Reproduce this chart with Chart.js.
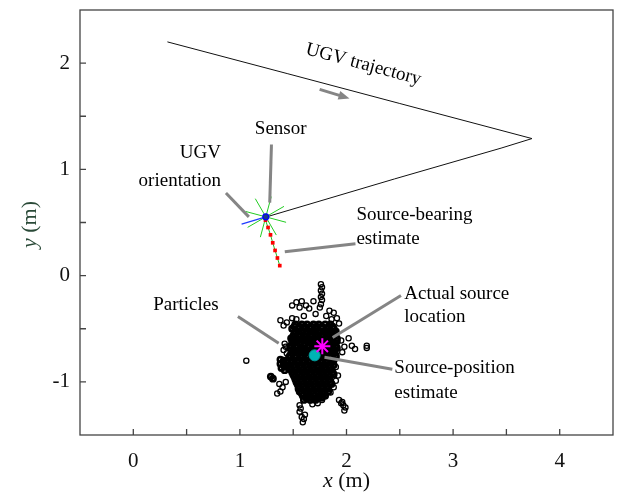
<!DOCTYPE html>
<html>
<head>
<meta charset="utf-8">
<script src="https://cdn.jsdelivr.net/npm/chart.js@4.4.1/dist/chart.umd.min.js"></script>
<style>
  html, body { margin: 0; padding: 0; background: #fff; }
</style>
</head>
<body>
<canvas id="myChart" width="617" height="493"></canvas>
<script>
// UGV path (m)
const trajX = [0.32, 1.45, 2.50, 3.74, 3.45, 2.45, 1.25];
const trajY = [2.20, 1.90, 1.62, 1.29, 1.20, 0.91, 0.553];

// sensor + heading
const sensorX = [1.243];
const sensorY = [0.553];
const headingX = [1.016, 1.243];
const headingY = [0.485, 0.553];

// bearing estimate samples
const bearingX = [1.240, 1.264, 1.287, 1.308, 1.330, 1.352, 1.374];
const bearingY = [0.522, 0.453, 0.384, 0.309, 0.237, 0.166, 0.094];

// actual source & estimate
const sourceX = [1.773];
const sourceY = [-0.665];
const estimateX = [1.701];
const estimateY = [-0.750];

// particles, dense middle of the cloud [x, y]
const particleCore = [
  [1.52,-0.46],[1.58,-0.46],[1.63,-0.46],[1.69,-0.46],[1.74,-0.46],[1.80,-0.46],[1.85,-0.46],
  [1.51,-0.48],[1.56,-0.48],[1.61,-0.48],[1.67,-0.48],[1.72,-0.48],[1.77,-0.48],[1.83,-0.48],[1.87,-0.48],
  [1.49,-0.50],[1.55,-0.50],[1.61,-0.50],[1.66,-0.50],[1.71,-0.50],[1.77,-0.50],[1.82,-0.50],[1.88,-0.50],
  [1.52,-0.525],[1.58,-0.525],[1.63,-0.525],[1.69,-0.525],[1.74,-0.525],[1.80,-0.525],[1.85,-0.525],[1.90,-0.525],
  [1.51,-0.55],[1.56,-0.55],[1.62,-0.55],[1.67,-0.55],[1.72,-0.55],[1.78,-0.55],[1.83,-0.55],[1.89,-0.55],
  [1.50,-0.57],[1.55,-0.57],[1.61,-0.57],[1.66,-0.57],[1.72,-0.57],[1.77,-0.57],[1.82,-0.57],[1.88,-0.57],
  [1.48,-0.59],[1.53,-0.59],[1.59,-0.59],[1.64,-0.59],[1.70,-0.59],[1.75,-0.59],[1.81,-0.59],[1.86,-0.59],[1.91,-0.59],
  [1.49,-0.615],[1.54,-0.615],[1.60,-0.615],[1.66,-0.615],[1.71,-0.615],[1.77,-0.615],[1.82,-0.615],[1.87,-0.615],[1.91,-0.615],
  [1.50,-0.64],[1.56,-0.64],[1.61,-0.64],[1.67,-0.64],[1.72,-0.64],[1.78,-0.64],[1.83,-0.64],[1.88,-0.64],
  [1.48,-0.66],[1.54,-0.66],[1.60,-0.66],[1.65,-0.66],[1.71,-0.66],[1.76,-0.66],[1.82,-0.66],[1.87,-0.66],[1.90,-0.66],
  [1.47,-0.68],[1.53,-0.68],[1.58,-0.68],[1.64,-0.68],[1.69,-0.68],[1.75,-0.68],[1.80,-0.68],[1.86,-0.68],[1.91,-0.68],
  [1.50,-0.705],[1.56,-0.705],[1.61,-0.705],[1.67,-0.705],[1.72,-0.705],[1.78,-0.705],[1.83,-0.705],[1.89,-0.705],
  [1.49,-0.73],[1.55,-0.73],[1.60,-0.73],[1.66,-0.73],[1.71,-0.73],[1.77,-0.73],[1.82,-0.73],[1.88,-0.73],
  [1.47,-0.75],[1.53,-0.75],[1.58,-0.75],[1.64,-0.75],[1.69,-0.75],[1.75,-0.75],[1.80,-0.75],[1.86,-0.75],[1.90,-0.75],
  [1.46,-0.77],[1.52,-0.77],[1.57,-0.77],[1.63,-0.77],[1.68,-0.77],[1.74,-0.77],[1.79,-0.77],[1.85,-0.77],[1.90,-0.77],
  [1.49,-0.795],[1.55,-0.795],[1.60,-0.795],[1.66,-0.795],[1.71,-0.795],[1.77,-0.795],[1.82,-0.795],[1.88,-0.795],
  [1.48,-0.82],[1.54,-0.82],[1.59,-0.82],[1.65,-0.82],[1.70,-0.82],[1.76,-0.82],[1.81,-0.82],[1.86,-0.82],
  [1.46,-0.84],[1.51,-0.84],[1.57,-0.84],[1.62,-0.84],[1.68,-0.84],[1.73,-0.84],[1.79,-0.84],[1.84,-0.84],[1.88,-0.84],
  [1.47,-0.86],[1.52,-0.86],[1.58,-0.86],[1.63,-0.86],[1.69,-0.86],[1.74,-0.86],[1.80,-0.86],[1.85,-0.86],
  [1.48,-0.885],[1.53,-0.885],[1.59,-0.885],[1.64,-0.885],[1.70,-0.885],[1.76,-0.885],[1.81,-0.885],[1.86,-0.885],
  [1.49,-0.91],[1.55,-0.91],[1.60,-0.91],[1.66,-0.91],[1.71,-0.91],[1.77,-0.91],[1.82,-0.91],[1.87,-0.91],
  [1.50,-0.93],[1.56,-0.93],[1.61,-0.93],[1.67,-0.93],[1.72,-0.93],[1.78,-0.93],[1.83,-0.93],[1.88,-0.93],
  [1.51,-0.95],[1.57,-0.95],[1.62,-0.95],[1.68,-0.95],[1.73,-0.95],[1.79,-0.95],[1.84,-0.95],
  [1.52,-0.975],[1.57,-0.975],[1.63,-0.975],[1.68,-0.975],[1.74,-0.975],[1.79,-0.975],[1.84,-0.975],
  [1.53,-1.00],[1.58,-1.00],[1.64,-1.00],[1.69,-1.00],[1.75,-1.00],[1.80,-1.00],[1.85,-1.00],
  [1.54,-1.02],[1.59,-1.02],[1.65,-1.02],[1.70,-1.02],[1.76,-1.02],[1.81,-1.02],[1.86,-1.02],
  [1.55,-1.04],[1.60,-1.04],[1.66,-1.04],[1.71,-1.04],[1.77,-1.04],[1.82,-1.04],
  [1.55,-1.065],[1.61,-1.065],[1.66,-1.065],[1.72,-1.065],[1.77,-1.065],[1.82,-1.065],
  [1.56,-1.09],[1.62,-1.09],[1.67,-1.09],[1.73,-1.09],[1.78,-1.09],[1.83,-1.09],
  [1.58,-1.11],[1.63,-1.11],[1.69,-1.11],[1.74,-1.11],[1.79,-1.11],
  [1.59,-1.13],[1.64,-1.13],[1.70,-1.13],[1.75,-1.13],[1.80,-1.13],
  [1.62,-1.15],[1.67,-1.15],[1.72,-1.15],[1.77,-1.15],
  [1.60,-1.17],[1.66,-1.17],[1.71,-1.17],
  [1.38,-0.79],[1.41,-0.80],[1.44,-0.81],[1.38,-0.83],[1.41,-0.84],[1.44,-0.86],[1.39,-0.87],[1.42,-0.89],
  [1.29,-0.95],[1.31,-0.97]
];

// particles, sparse edge of the cloud [x, y]
const particleEdge = [
  [1.76,-0.08],[1.77,-0.11],[1.76,-0.14],[1.77,-0.17],[1.76,-0.20],[1.77,-0.23],[1.76,-0.27],[1.75,-0.30],
  [1.53,-0.25],[1.58,-0.24],[1.62,-0.28],[1.65,-0.31],[1.69,-0.24],[1.56,-0.30],[1.49,-0.28],
  [1.38,-0.42],[1.44,-0.44],[1.49,-0.40],[1.53,-0.41],[1.41,-0.47],[1.60,-0.38],[1.71,-0.36],
  [1.84,-0.33],[1.88,-0.35],[1.91,-0.40],[1.86,-0.41],[1.81,-0.38],[1.93,-0.45],
  [1.95,-0.61],[2.02,-0.59],[1.98,-0.67],[2.05,-0.66],[2.08,-0.69],[1.96,-0.72],[2.19,-0.66],[2.19,-0.68],
  [1.42,-0.64],[1.43,-0.67],[1.41,-0.70],[1.44,-0.73],
  [1.37,-1.02],[1.40,-1.05],[1.38,-1.09],[1.43,-1.00],
  [1.06,-0.80],[1.35,-1.11],
  [1.56,-1.22],[1.57,-1.25],[1.56,-1.28],
  [1.58,-1.33],[1.60,-1.35],[1.59,-1.38],[1.61,-1.31],
  [1.93,-1.17],[1.96,-1.19],[1.97,-1.22],[1.99,-1.24],[1.98,-1.27],[1.95,-1.20],
  [1.68,-1.21],[1.73,-1.20],[1.77,-1.17],[1.85,-1.10],[1.88,-1.05],[1.90,-0.99],[1.92,-0.94],[1.90,-0.86]
];

// callouts: text anchors and pointer lines, in data units
const notes = [
  { text: 'Sensor', x: 1.383, y: 1.378, align: 'center' },
  { text: 'UGV', x: 0.822, y: 1.153, align: 'right' },
  { text: 'orientation', x: 0.822, y: 0.895, align: 'right' },
  { text: 'Source-bearing', x: 2.093, y: 0.572, align: 'left' },
  { text: 'estimate', x: 2.093, y: 0.347, align: 'left' },
  { text: 'Particles', x: 0.187, y: -0.281, align: 'left' },
  { text: 'Actual source', x: 2.542, y: -0.169, align: 'left' },
  { text: 'location', x: 2.542, y: -0.394, align: 'left' },
  { text: 'Source-position', x: 2.449, y: -0.872, align: 'left' },
  { text: 'estimate', x: 2.449, y: -1.106, align: 'left' }
];
const pointers = [
  [1.296, 1.234, 1.280, 0.687],
  [0.869, 0.778, 1.084, 0.553],
  [1.421, 0.225, 2.084, 0.300],
  [0.981, -0.384, 1.364, -0.637],
  [2.511, -0.187, 1.870, -0.582],
  [2.430, -0.881, 1.794, -0.769]
];

function pts(xs, ys) {
  return xs.map((x, i) => ({ x: x, y: ys[i] }));
}

const serif = '"Liberation Serif", "Times New Roman", serif';

function noEdgePadding(scale) {
  scale.paddingLeft = 0;
  scale.paddingRight = 0;
  scale.paddingTop = 0;
  scale.paddingBottom = 0;
}

const overlay = {
  id: 'overlay',
  afterDatasetsDraw(chart) {
    const ctx = chart.ctx;
    const X = v => chart.scales.x.getPixelForValue(v);
    const Y = v => chart.scales.y.getPixelForValue(v);
    ctx.save();
    ctx.strokeStyle = '#858585';
    ctx.fillStyle = '#858585';
    ctx.lineWidth = 3;
    for (const p of pointers) {
      ctx.beginPath();
      ctx.moveTo(X(p[0]), Y(p[1]));
      ctx.lineTo(X(p[2]), Y(p[3]));
      ctx.stroke();
    }
    // direction arrow on the trajectory
    const ax0 = X(1.748), ay0 = Y(1.753), ax1 = X(2.028), ay1 = Y(1.668);
    const ang = Math.atan2(ay1 - ay0, ax1 - ax0);
    ctx.beginPath();
    ctx.moveTo(ax0, ay0);
    ctx.lineTo(ax1 - 8 * Math.cos(ang), ay1 - 8 * Math.sin(ang));
    ctx.stroke();
    ctx.beginPath();
    ctx.moveTo(ax1, ay1);
    ctx.lineTo(ax1 - 11 * Math.cos(ang) + 4.5 * Math.sin(ang), ay1 - 11 * Math.sin(ang) - 4.5 * Math.cos(ang));
    ctx.lineTo(ax1 - 11 * Math.cos(ang) - 4.5 * Math.sin(ang), ay1 - 11 * Math.sin(ang) + 4.5 * Math.cos(ang));
    ctx.closePath();
    ctx.fill();

    ctx.fillStyle = '#000';
    ctx.font = '19px ' + serif;
    ctx.textBaseline = 'middle';
    for (const n of notes) {
      ctx.textAlign = n.align;
      ctx.fillText(n.text, X(n.x), Y(n.y));
    }
    ctx.save();
    ctx.translate(X(2.159), Y(1.987));
    ctx.rotate(15 * Math.PI / 180);
    ctx.textAlign = 'center';
    ctx.fillText('UGV trajectory', 0, 0);
    ctx.restore();
    ctx.restore();
  },
  afterDraw(chart) {
    const ctx = chart.ctx, a = chart.chartArea;
    const xs = chart.scales.x, ys = chart.scales.y;
    ctx.save();
    ctx.strokeStyle = '#444';
    ctx.lineWidth = 1.3;
    ctx.strokeRect(a.left, a.top, a.right - a.left, a.bottom - a.top);
    ctx.beginPath();
    for (const t of xs.ticks) {
      const px = xs.getPixelForValue(t.value);
      if (px <= a.left + 1 || px >= a.right - 1) continue;
      ctx.moveTo(px, a.bottom);
      ctx.lineTo(px, a.bottom - 6);
    }
    for (const t of ys.ticks) {
      const py = ys.getPixelForValue(t.value);
      if (py <= a.top + 1 || py >= a.bottom - 1) continue;
      ctx.moveTo(a.left, py);
      ctx.lineTo(a.left + 6, py);
    }
    ctx.stroke();

    // axis titles with italic variable
    ctx.textBaseline = 'middle';
    ctx.textAlign = 'left';
    const drawTitle = (v, rest, color) => {
      ctx.font = 'italic 22px ' + serif;
      const w1 = ctx.measureText(v).width;
      ctx.font = '22px ' + serif;
      const w2 = ctx.measureText(rest).width;
      const x0 = -(w1 + w2) / 2;
      ctx.fillStyle = color;
      ctx.font = 'italic 22px ' + serif;
      ctx.fillText(v, x0, 0);
      ctx.font = '22px ' + serif;
      ctx.fillText(rest, x0 + w1, 0);
    };
    ctx.save();
    ctx.translate((a.left + a.right) / 2, 481);
    drawTitle('x', ' (m)', '#111');
    ctx.restore();
    ctx.save();
    ctx.translate(30, (a.top + a.bottom) / 2 + 2);
    ctx.rotate(-Math.PI / 2);
    drawTitle('y', ' (m)', '#2a4a38');
    ctx.restore();
    ctx.restore();
  }
};

const ctx1 = document.getElementById('myChart');
const myChart = new Chart(ctx1, {
  type: 'scatter',
  data: {
    datasets: [
      {
        label: 'Actual source',
        data: pts(sourceX, sourceY),
        pointStyle: 'star',
        pointRadius: 8,
        borderColor: '#ff00ff',
        borderWidth: 2,
        order: 0
      },
      {
        label: 'Source-position estimate',
        data: pts(estimateX, estimateY),
        pointStyle: 'circle',
        pointRadius: 5.5,
        backgroundColor: '#00b4b4',
        borderColor: '#009a9a',
        borderWidth: 1,
        order: 1
      },
      {
        label: 'Sensor',
        data: pts(sensorX, sensorY),
        pointStyle: 'circle',
        pointRadius: 3,
        backgroundColor: '#1a3a8a',
        borderColor: '#0000ff',
        borderWidth: 1.2,
        order: 2
      },
      {
        label: 'Source-bearing estimate',
        data: pts(bearingX, bearingY),
        showLine: true,
        borderColor: '#22bb22',
        borderWidth: 1,
        pointStyle: 'rect',
        pointRadius: 2.6,
        backgroundColor: '#ff0000',
        pointBorderColor: '#ff0000',
        pointBorderWidth: 0,
        order: 3
      },
      {
        label: 'UGV orientation',
        data: pts(headingX, headingY),
        showLine: true,
        borderColor: '#1f3cff',
        borderWidth: 1.3,
        pointRadius: 0,
        order: 4
      },
      {
        label: 'Sensor FOV',
        data: pts(sensorX, sensorY),
        pointStyle: 'star',
        pointRadius: 21,
        rotation: 15,
        borderColor: '#22cc22',
        borderWidth: 1,
        order: 5
      },
      {
        label: 'Particles',
        data: particleEdge.map(p => ({ x: p[0], y: p[1] })),
        pointStyle: 'circle',
        pointRadius: 2.6,
        borderColor: '#000',
        borderWidth: 1.3,
        backgroundColor: 'rgba(0,0,0,0)',
        order: 6
      },
      {
        label: 'Particles (dense)',
        data: particleCore.map(p => ({ x: p[0], y: p[1] })),
        pointStyle: 'circle',
        pointRadius: 2.6,
        borderColor: '#000',
        borderWidth: 2.6,
        backgroundColor: 'rgba(0,0,0,0)',
        order: 7
      },
      {
        label: 'UGV trajectory',
        data: pts(trajX, trajY),
        showLine: true,
        borderColor: '#111',
        borderWidth: 1,
        pointRadius: 0,
        tension: 0,
        order: 8
      }
    ]
  },
  options: {
    responsive: false,
    animation: false,
    layout: { autoPadding: false, padding: { left: 0, right: 4, top: 10, bottom: 0 } },
    plugins: {
      legend: { display: false },
      tooltip: { enabled: false }
    },
    scales: {
      x: {
        type: 'linear',
        min: -0.5,
        max: 4.5,
        grid: { display: false, drawTicks: false },
        border: { display: false },
        ticks: {
          stepSize: 0.5,
          autoSkip: false,
          maxRotation: 0,
          padding: 14,
          color: '#111',
          font: { family: serif, size: 21 },
          callback: v => Number.isInteger(v) ? String(v) : ''
        },
        afterFit(scale) { scale.height = 58; noEdgePadding(scale); }
      },
      y: {
        type: 'linear',
        min: -1.5,
        max: 2.5,
        grid: { display: false, drawTicks: false },
        border: { display: false },
        ticks: {
          stepSize: 0.5,
          autoSkip: false,
          padding: 10,
          color: '#111',
          font: { family: serif, size: 21 },
          callback: v => Number.isInteger(v) ? String(v) : ''
        },
        afterFit(scale) { scale.width = 80; noEdgePadding(scale); }
      }
    }
  },
  plugins: [overlay]
});
</script>
</body>
</html>
